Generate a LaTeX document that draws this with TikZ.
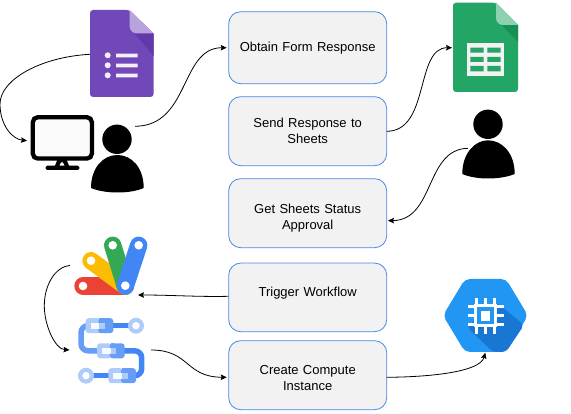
\documentclass[tikz,border=0pt]{standalone}
\usepackage{fontspec}
\setmainfont{Liberation Sans}
\usetikzlibrary{arrows.meta}
\definecolor{boxb}{HTML}{4A86E8}
\definecolor{boxf}{HTML}{F2F2F2}
\definecolor{fpurple}{HTML}{7248B9}
\definecolor{fpurpled}{HTML}{6239AB}
\definecolor{fpurplel}{HTML}{B9A3DC}
\definecolor{sgreen}{HTML}{23A566}
\definecolor{sgreend}{HTML}{188F54}
\definecolor{sgreenl}{HTML}{8ED1B1}
\definecolor{cblue}{HTML}{2196F3}
\definecolor{cblued}{HTML}{1976D2}
\definecolor{wfa}{HTML}{AECBFA}
\definecolor{wfb}{HTML}{669DF6}
\definecolor{wfc}{HTML}{4285F4}
\definecolor{asred}{HTML}{EA4335}
\definecolor{asyellow}{HTML}{FBBC04}
\definecolor{asgreen}{HTML}{34A853}
\tikzset{
 stepbox/.style={draw=boxb,fill=boxf,rounded corners=12pt,line width=.8pt,minimum width=158pt,text width=140pt,align=center,font=\fontsize{13}{16}\selectfont,anchor=north west,inner sep=0pt},
 conn/.style={draw=black,line width=.8pt,-{Stealth[length=6pt,width=5.5pt,inset=1pt]}}
}
\begin{document}
\begin{tikzpicture}[x=1pt,y=-1pt]
\useasboundingbox (0,0) rectangle (571,414);
% boxes
\node[stepbox,minimum height=72pt] (b1) at (228.3,11.3) {Obtain Form Response};
\node[stepbox,minimum height=69pt] (b2) at (228.3,96.3) {Send Response to\\Sheets};
\node[stepbox,minimum height=69pt] (b3) at (228.3,178.3) {\rule{0pt}{20pt}Get Sheets Status\\Approval};
\node[stepbox,minimum height=68.6pt] (b4) at (228.3,262.7) {\rule[-12pt]{0pt}{12pt}Trigger Workflow};
\node[stepbox,minimum height=69pt] (b5) at (228.3,340.3) {\rule{0pt}{15.5pt}Create Compute\\Instance};
% forms icon
\fill[fpurple,rounded corners=3pt] (90,10) -- (129.5,10) [sharp corners] -- (153.5,33.5) [rounded corners=3pt] -- (153.5,97) -- (90,97) -- cycle;
\fill[fpurpled] (130,28) -- (153.5,33.5) -- (153.5,56) -- cycle;
\fill[fpurplel] (129.5,10) -- (153.5,33.5) -- (137,33.5) .. controls (133,33.5) and (129.5,30) .. (129.5,26) -- cycle;
\fill[white!92!fpurple] (107.7,55.3) circle (3) (107.7,65.3) circle (3) (107.7,75.3) circle (3);
\fill[white!92!fpurple] (116,53.7) rectangle (137.7,57.3) (116,63.7) rectangle (137.7,67.3) (116,73.7) rectangle (137.7,77.3);
% monitor
\draw[line width=4.3pt,fill=white!98!black,rounded corners=5pt] (32.8,117.2) rectangle (91.9,158.6);
\fill (57.3,160) -- (66.7,160) -- (69.5,167) -- (54.5,167) -- cycle;
\fill[white!98!black] (61,162.5) -- (63,162.5) -- (64.5,165.8) -- (59.5,165.8) -- cycle;
\fill[rounded corners=1.5pt] (45.7,165.7) rectangle (79.3,170);
% user 1
\fill (117,139.3) circle (14.7);
\fill (91,188) .. controls (91,168) and (103,155) .. (117.3,155) .. controls (132,155) and (143.7,168) .. (143.7,188) .. controls (130,194) and (105,194) .. (91,188) -- cycle;
% sheets icon
\fill[sgreen,rounded corners=3pt] (453,2.7) -- (496,2.7) [sharp corners] -- (518,25) [rounded corners=3pt] -- (518,92) -- (453,92) -- cycle;
\fill[sgreend] (497,20) -- (518,25) -- (518,42) -- cycle;
\fill[sgreenl] (496,2.7) -- (518,25) -- (503,25) .. controls (499,25) and (496,22) .. (496,18) -- cycle;
\fill[boxf] (466.7,43.3) rectangle (504,75.7);
\fill[sgreen] (470.3,47.7) rectangle (483.7,52.7) (487.3,47.7) rectangle (500.7,52.7)
 (470.3,56.8) rectangle (483.7,62) (487.3,56.8) rectangle (500.7,62)
 (470.3,66) rectangle (483.7,71.5) (487.3,66) rectangle (500.7,71.5);
% user 2
\fill (488,124.3) circle (14.7);
\fill (462.3,174) .. controls (462.3,153) and (475,140.3) .. (488,140.3) .. controls (502,140.3) and (514.7,153) .. (514.7,174) .. controls (500,180) and (476,180) .. (462.3,174) -- cycle;
% apps script icon
\begin{scope}[line cap=round,line width=17.4pt]
\draw[asred] (83,286) -- (125.3,286);
\draw[asyellow] (91,260.7) -- (125.3,286);
\draw[asgreen] (112.7,245.3) -- (125.3,286);
\draw[wfc] (138.7,245.3) -- (125.3,286);
\end{scope}
\fill[white] (83,286) circle (4.3) (91,260.7) circle (4.3) (112.7,245.3) circle (4.3) (138.7,245.3) circle (4.3) (125.3,285.7) circle (4.3);
% workflows icon
\draw[wfb,line width=5.5pt,rounded corners=7pt] (90,325.7) -- (81,325.7) -- (81,350.8) -- (115,350.8);
\draw[wfc,line width=5.5pt,rounded corners=7pt] (115,350.8) -- (141.7,350.8) -- (141.7,375.7) -- (125,375.7);
\draw[wfc,line width=5.5pt] (105,325.7) -- (130,325.7) (90,375.7) -- (115,375.7);
\foreach \yy/\xx in {325.7/99.3,350.8/110.7,375.7/122}{
  \fill[wfa,rounded corners=3pt] (\xx-13.6,\yy-7.5) rectangle (\xx+1,\yy+7.5);
  \fill[wfb,rounded corners=3pt] (\xx-1,\yy-7.5) rectangle (\xx+14,\yy+7.5);
  \fill[wfb] (\xx,\yy-7.5) rectangle (\xx+3,\yy+7.5);
  \fill[white!90!wfa] (\xx-8.6,\yy-3) rectangle (\xx,\yy+3);
  \fill[wfa] (\xx,\yy-3) rectangle (\xx+5.7,\yy+3);
}
\fill[wfa] (136,325.7) circle (8) (86,375.7) circle (8);
\fill[white] (136,325.7) circle (3.7) (86,375.7) circle (3.7);
% compute icon
\fill[cblue,rounded corners=5pt] (443,315.5) -- (465,279) -- (506,279) -- (528,315.5) -- (506,352) -- (465,352) -- cycle;
\fill[cblued,rounded corners=4pt] (496,302) -- (524,325) -- (506,352) -- (493,352) -- (467,327) -- cycle;
\foreach \d in {0,9,18}{
  \fill[white] (475.3+\d,297.7) rectangle (478.3+\d,334);
  \fill[white] (467.7,304.7+\d) rectangle (503.7,307.7+\d);
}
\fill[white] (474.3,304.3) rectangle (496.7,327.3);
\fill[cblue] (477.3,307.3) rectangle (493.7,324.3);
\fill[white] (481,311.3) rectangle (490.3,320.7);
% free ends
\coordinate (f1) at (90,54.3);
\coordinate (m1) at (27,140.7);
\coordinate (u1) at (135,126.3);
\coordinate (s1) at (452,47.7);
\coordinate (u2) at (468,148.3);
\coordinate (a1) at (138,295);
\coordinate (a2) at (70,265.3);
\coordinate (w1) at (69.5,350);
\coordinate (w2) at (151,350);
\coordinate (c1) at (485.3,352.7);
\coordinate (t1) at (226.7,47.7);
\coordinate (t3) at (388,220.7);
\coordinate (t5) at (226.7,377.3);
\coordinate (o4) at (228.3,296.3);
\coordinate (o2) at (386.7,131.3);
\coordinate (o5) at (386.7,377.3);
% connectors
\draw[conn] (f1) .. controls (40,57) and (0,80) .. (0,104) .. controls (0,125) and (12,139) .. (m1);
\draw[conn] (u1) .. controls (190,126) and (180,47.7) .. (t1);
\draw[conn] (o2) .. controls (430,131.3) and (415,47.7) .. (s1);
\draw[conn] (u2) .. controls (425,149) and (435,220) .. (t3);
\draw[conn] (o4) .. controls (200,297) and (170,295) .. (a1);
\draw[conn] (a2) .. controls (55,267) and (44.3,285) .. (44.3,306) .. controls (44.3,325) and (55,349) .. (w1);
\draw[conn] (w2) .. controls (190,350) and (185,377) .. (t5);
\draw[conn] (o5) .. controls (430,377) and (480,372) .. (c1);
\end{tikzpicture}
\end{document}
